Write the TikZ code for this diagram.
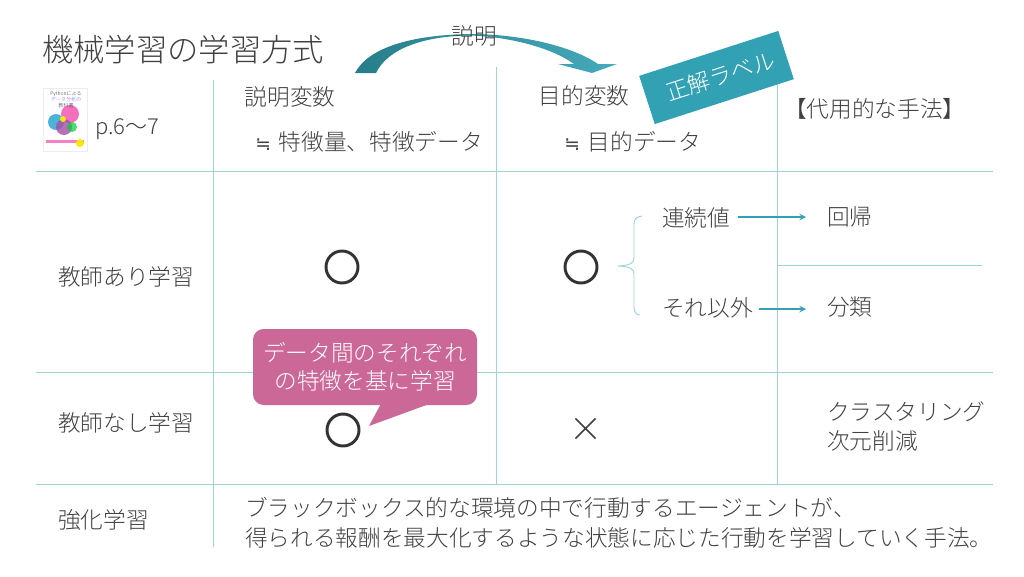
\documentclass[tikz,border=0pt]{standalone}
\usepackage{fontspec}
\setmainfont{Noto Sans CJK JP Light}
\newfontfamily\symfont{DejaVu Sans}
\usetikzlibrary{shapes.misc}
\definecolor{gridteal}{HTML}{9AD4DE}
\definecolor{darkteal}{HTML}{267D8A}
\definecolor{midteal}{HTML}{31A1B3}
\definecolor{calloutpink}{HTML}{CB6898}
\definecolor{inkgray}{HTML}{404040}
\def\drawgrid{\draw[color=gridteal, line width=0.7pt]}
\def\drawpoint{\draw[color=midteal, line width=1.2pt, ->, >=stealth]}
\def\lbl{\node[anchor=west,inner sep=0pt,text=inkgray,font=\fontsize{17}{17}\selectfont]}
\def\ringnode{\node[circle,draw=inkgray!80!black,line width=2.2pt,minimum size=24pt,inner sep=0pt]}
\def\approxsign{{\symfont\fontsize{14}{14}\selectfont ≒}\hspace{6pt}}

\begin{document}
\begin{tikzpicture}[x=0.75pt,y=-0.75pt]
\useasboundingbox (0,0) rectangle (1024,576);
% grid
\coordinate (rowa) at (36,171);
\coordinate (rowae) at (993,171);
\coordinate (rowb) at (36,372);
\coordinate (rowbe) at (993,372);
\coordinate (rowc) at (36,484);
\coordinate (rowce) at (993,484);
\coordinate (colx) at (213,80);
\coordinate (colxe) at (213,547);
\coordinate (coly) at (496,67);
\coordinate (colye) at (496,484);
\coordinate (colz) at (777,85);
\coordinate (colze) at (777,484);
\coordinate (splita) at (777,265);
\coordinate (splitb) at (982,265);
\drawgrid (rowa) -- (rowae);
\drawgrid (rowb) -- (rowbe);
\drawgrid (rowc) -- (rowce);
\drawgrid (colx) -- (colxe);
\drawgrid (coly) -- (colye);
\drawgrid (colz) -- (colze);
\drawgrid (splita) -- (splitb);
% title
\node[anchor=west,inner sep=0pt,text=inkgray,font=\fontsize{23.5}{24}\selectfont] (title) at (42,50) {機械学習の学習方式};
% swoosh
\shade[left color=darkteal,right color=midteal!90!white]
  (355,73) .. controls (368,48) and (410,35) .. (470,34)
  .. controls (520,34) and (572,46) .. (598,64) -- (617,64) -- (592,73) -- (558,64) -- (574,64)
  .. controls (555,50) and (515,37) .. (470,35.5)
  .. controls (425,36) and (388,48) .. (376,73) -- cycle;
\node[inner sep=0pt,text=inkgray,font=\fontsize{17}{17}\selectfont] (setsumei) at (474,36) {説明};
% book
\node[draw=gray!15,fill=white,minimum width=33pt,minimum height=47pt,inner sep=0pt] (book) at (65,119.5) {};
\fill[color=cyan!70!teal,opacity=0.8] (56,122) circle (8);
\fill[color=magenta!70,opacity=0.8] (70,114) circle (9);
\fill[color=violet!70,opacity=0.8] (64,127) circle (8);
\fill[color=green!60!teal,opacity=0.7] (72,127) circle (5);
\fill[color=yellow,opacity=0.9] (63,119) circle (3);
\fill[color=magenta!50] (46,140) rectangle (84,143);
\fill[color=yellow!90!orange] (80,143) circle (4);
\node[inner sep=0pt,text=inkgray,font=\fontsize{3.8}{4}\selectfont] (booka) at (66,94) {Pythonによる};
\node[inner sep=0pt,text=blue!60,font=\fontsize{3.8}{4}\selectfont] (bookb) at (66,100) {データ分析の};
\node[inner sep=0pt,text=inkgray,font=\fontsize{3.8}{4}\selectfont] (bookc) at (66,106) {教科書};
\node[anchor=west,inner sep=0pt,text=inkgray,font=\fontsize{16.5}{17}\selectfont] (page) at (95,129) {p.6～7};
% header
\lbl (xhead) at (244.5,97) {説明変数};
\lbl (xsub) at (255,142) {\approxsign 特徴量、特徴データ};
\lbl (yhead) at (538.5,96) {目的変数};
\lbl (ysub) at (564,142) {\approxsign 目的データ};
\lbl (method) at (784,109) {【代用的な手法】};
\node[fill=midteal,rotate=17.9,minimum width=109.6pt,minimum height=38pt,inner sep=0pt,text=white,font=\fontsize{17}{17}\selectfont] (answer) at (716.5,77.5) {\hspace*{6pt}正解ラベル};
% rows
\lbl (super) at (58,277) {教師あり学習};
\lbl (unsuper) at (58,423) {教師なし学習};
\lbl (reinforce) at (58,520) {強化学習};
\ringnode (xa) at (342,267) {};
\ringnode (ya) at (581,267) {};
\ringnode (xb) at (343,430) {};
\node[cross out,draw=inkgray,line width=1.1pt,minimum size=14pt,inner sep=0pt] (yb) at (585.5,428.5) {};
% targets
\lbl (cont) at (662,218) {連続値};
\lbl (other) at (662,308) {それ以外};
\lbl (regr) at (827,217) {回帰};
\lbl (clas) at (827,307) {分類};
\coordinate (regrtip) at (806,217);
\coordinate (clastip) at (806,309);
\coordinate (conttail) at (738,217);
\coordinate (othertail) at (759,309);
\drawpoint (conttail) -- (regrtip);
\drawpoint (othertail) -- (clastip);
\draw[color=gridteal, line width=0.7pt] (642,216) .. controls (636,217) and (634,219) .. (634,224)
  -- (634,258) .. controls (634,263) and (630,265.5) .. (618,266)
  .. controls (630,266.5) and (634,269) .. (634,274)
  -- (634,307) .. controls (634,312) and (636,315) .. (640,315);
\lbl (clust) at (827,412) {クラスタリング};
\lbl (dimred) at (827,441) {次元削減};
\lbl (rla) at (245,508) {ブラックボックス的な環境の中で行動するエージェントが、};
\lbl (rlb) at (245,538) {得られる報酬を最大化するような状態に応じた行動を学習していく手法。};
% callout
\fill[color=calloutpink] (383,400) -- (369,426) -- (440,400) -- cycle;
\node[fill=calloutpink,rounded corners=8pt,minimum width=168pt,minimum height=57pt,inner sep=0pt,text=white,align=center,font=\fontsize{17}{21}\selectfont] (note) at (365,367) {データ間のそれぞれ\\の特徴を基に学習};
\end{tikzpicture}
\end{document}
